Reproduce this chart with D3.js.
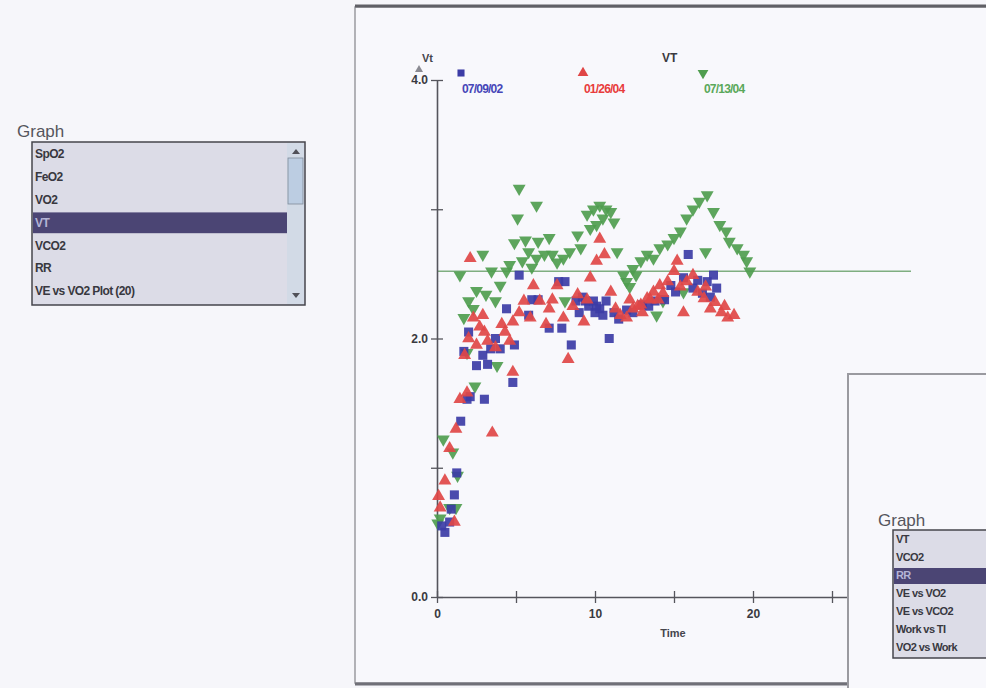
<!DOCTYPE html>
<html>
<head>
<meta charset="utf-8">
<script src="https://cdn.jsdelivr.net/npm/d3@7"></script>
<style>
  body { margin: 0; background: #f6f6fa; }
  svg { display: block; font-family: "Liberation Sans", Arial, sans-serif; }
</style>
</head>
<body>
<svg width="986" height="688"></svg>
<script>
var svg = d3.select("svg"),
    width = +svg.attr("width"),
    height = +svg.attr("height");

// VT (L) over time (min), three test dates
var blueTime = [0.3,0.5,0.8,0.9,1.1,1.25,1.5,1.7,1.9,2.0,2.1,2.5,2.9,3.0,3.2,3.4,3.7,4.0,4.4,4.8,4.9,5.2,5.8,6.0,6.4,7.1,7.7,7.9,8.1,8.5,8.8,9.0,9.2,9.4,9.6,9.9,10.0,10.1,10.3,10.5,10.7,10.9,11.2,11.5,12.0,12.4,13.0,13.4,13.8,14.4,14.8,15.1,15.6,15.9,16.2,16.5,16.8,17.1,17.3,17.5,17.7];
var blueVt   = [0.55,0.5,0.58,0.68,0.79,0.96,1.36,1.9,1.53,2.05,1.55,1.79,1.87,1.53,1.8,1.92,2.0,1.92,2.23,1.66,1.95,2.49,2.18,2.3,2.3,2.08,2.44,2.08,2.44,1.95,2.29,2.2,2.32,2.29,2.25,2.29,2.2,2.25,2.23,2.18,2.29,2.0,2.2,2.15,2.22,2.2,2.26,2.25,2.29,2.3,2.41,2.36,2.47,2.65,2.39,2.45,2.35,2.44,2.32,2.49,2.39];

var redTime = [0.1,0.2,0.5,0.8,1.1,1.2,1.45,1.75,1.9,2.0,2.1,2.3,2.5,2.7,2.9,3.0,3.2,3.5,3.7,4.1,4.3,4.6,4.8,4.8,5.2,5.5,5.9,6.1,6.5,6.9,7.1,7.3,7.6,8.0,8.3,8.6,8.9,9.3,9.5,9.7,10.1,10.3,10.6,11.0,11.3,11.6,12.0,12.2,12.4,12.7,12.9,13.0,13.3,13.5,13.7,14.0,14.1,14.3,14.6,15.0,15.2,15.4,15.6,15.8,16.2,16.5,16.9,17.0,17.3,17.6,18.0,18.2,18.4,18.8];
var redVt   = [0.78,0.69,0.9,1.15,0.58,1.3,1.53,1.87,1.58,2.0,2.62,2.16,1.95,2.09,2.18,2.05,1.98,1.27,1.93,2.11,2.05,1.98,1.74,2.13,2.2,2.29,2.16,2.41,2.29,2.11,2.23,2.3,2.41,2.16,1.84,2.25,2.34,2.13,2.3,2.47,2.6,2.77,2.65,2.36,2.23,2.18,2.16,2.3,2.23,2.25,2.26,2.2,2.31,2.3,2.36,2.3,2.41,2.35,2.44,2.52,2.6,2.4,2.2,2.44,2.49,2.36,2.31,2.4,2.23,2.28,2.2,2.25,2.16,2.18];

var greenTime = [0.05,0.2,0.4,0.8,1.0,1.2,1.3,1.45,1.7,1.9,2.0,2.3,2.4,2.5,2.9,3.1,3.45,3.7,3.8,4.0,4.4,4.6,4.9,5.1,5.2,5.4,5.6,5.8,6.0,6.3,6.3,6.4,6.8,7.1,7.3,7.6,8.0,8.1,8.4,8.9,9.1,9.5,9.7,9.9,10.1,10.3,10.5,10.7,11.0,11.2,11.4,11.8,12.0,12.2,12.4,12.6,12.9,13.3,13.7,13.9,14.1,14.3,14.6,15.0,15.4,15.6,15.8,16.2,16.6,17.0,17.1,17.5,17.9,18.3,18.5,19.0,19.4,19.6,19.8];
var greenVt   = [0.57,0.61,1.22,0.69,1.12,0.69,0.94,2.49,2.16,1.89,2.29,2.23,1.63,2.37,2.65,2.34,2.52,2.29,1.79,2.41,2.52,2.57,2.74,2.93,3.16,2.6,2.76,2.67,2.55,3.03,2.62,2.75,2.65,2.78,2.65,2.59,2.62,2.29,2.67,2.8,2.7,2.96,2.85,3.0,2.88,3.03,2.93,3.0,2.98,2.9,2.67,2.49,2.44,2.4,2.54,2.49,2.6,2.65,2.62,2.18,2.7,2.29,2.73,2.78,2.83,2.36,2.93,3.0,3.06,2.67,3.11,2.98,2.88,2.83,2.75,2.7,2.65,2.6,2.52];

var seriesNames = ["07/09/02", "01/26/04", "07/13/04"];
var thresholdVt = 2.52;

var xTicks = [0, 5, 10, 15, 20, 25, 30];
var xLabels = [0, 10, 20];
var yTicks = [0, 1, 2, 3, 4];
var yLabels = [0, 2, 4];

var listA = ["SpO2", "FeO2", "VO2", "VT", "VCO2", "RR", "VE vs VO2 Plot (20)"];
var listB = ["VT", "VCO2", "RR", "VE vs VO2", "VE vs VCO2", "Work vs TI", "VO2 vs Work"];

var colors = ["#3c3ca6", "#e04646", "#4f9d4f"];
var textColors = ["#4646b8", "#e83c3c", "#5aa85a"];

// ---- panels ----
svg.append("rect").attr("x", 0).attr("y", 0).attr("width", width).attr("height", height).attr("fill", "#f6f6fa");

// main graph window
svg.append("rect").attr("x", 355).attr("y", 7).attr("width", 640).attr("height", 676)
    .attr("fill", "#f8f8fc").attr("stroke", "#9a9aa0").attr("stroke-width", 1.5);
svg.append("line").attr("x1", 355).attr("x2", width).attr("y1", 6).attr("y2", 6)
    .attr("stroke", "#606066").attr("stroke-width", 3);
svg.append("line").attr("x1", 355).attr("x2", width).attr("y1", 684).attr("y2", 684)
    .attr("stroke", "#707078").attr("stroke-width", 3);

// list box with a selected row
function listBox(g, opt, items, sel) {
    g.append("text").attr("x", opt.lx).attr("y", opt.ly)
        .attr("font-size", opt.lsize).attr("fill", "#55555c").text("Graph");
    g.append("rect").attr("x", opt.x).attr("y", opt.y).attr("width", opt.w).attr("height", opt.h)
        .attr("fill", "#dcdce7").attr("stroke", "#45454c").attr("stroke-width", 1.5);
    g.append("rect").attr("x", opt.x + 1).attr("y", opt.y + 2 + sel * opt.step)
        .attr("width", opt.selW).attr("height", opt.step - 2).attr("fill", "#4b4574");
    g.selectAll("text.item").data(items).enter().append("text")
        .attr("class", "item")
        .attr("x", opt.x + 3)
        .attr("y", function (d, i) { return opt.y + opt.step * (i + 1) - opt.step * 0.28; })
        .attr("font-size", opt.fsize).attr("font-weight", "bold")
        .attr("letter-spacing", -0.6)
        .attr("fill", function (d, i) { return i === sel ? "#b4b4d6" : "#38383f"; })
        .text(function (d) { return d; });
}

var boxA = svg.append("g");
listBox(boxA, { lx: 17, ly: 137, lsize: 17, x: 32, y: 142, w: 273, h: 163, step: 22.8, selW: 254, fsize: 12 }, listA, 3);
// scrollbar
boxA.append("rect").attr("x", 287).attr("y", 143).attr("width", 17).attr("height", 161).attr("fill", "#d2dae6");
boxA.append("rect").attr("x", 288).attr("y", 158).attr("width", 15).attr("height", 46)
    .attr("fill", "#bccde2").attr("stroke", "#7f8a99").attr("stroke-width", 0.8);
boxA.append("path").attr("d", "M292,154 L296,149 L300,154 Z").attr("fill", "#505058");
boxA.append("path").attr("d", "M292,293 L296,298 L300,293 Z").attr("fill", "#505058");

// ---- chart ----
var x = d3.scaleLinear().domain([0, 30]).range([437, 911]);
var y = d3.scaleLinear().domain([0, 4]).range([597, 80]);

svg.append("line").attr("x1", x(0)).attr("x2", x(30)).attr("y1", y(thresholdVt)).attr("y2", y(thresholdVt))
    .attr("stroke", "#7fae80").attr("stroke-width", 1.5);

var xAxis = svg.append("g").attr("transform", "translate(0," + y(0) + ")")
    .call(d3.axisBottom(x).tickValues(xTicks).tickSizeInner(6).tickSizeOuter(0)
        .tickFormat(function (d) { return xLabels.indexOf(d) >= 0 ? d : ""; }));
xAxis.select(".domain").attr("stroke", "#55555c").attr("stroke-width", 1.6);
xAxis.selectAll(".tick line").attr("y1", -6).attr("y2", 6).attr("stroke", "#55555c").attr("stroke-width", 1.3);
xAxis.selectAll(".tick text").attr("y", 12).attr("font-size", 12).attr("font-weight", "bold")
    .attr("font-family", "Liberation Sans, Arial").attr("fill", "#3a3a40");

var yAxis = svg.append("g").attr("transform", "translate(" + x(0) + ",0)")
    .call(d3.axisLeft(y).tickValues(yTicks).tickSizeInner(6).tickSizeOuter(0)
        .tickFormat(function (d) { return yLabels.indexOf(d) >= 0 ? d3.format(".1f")(d) : ""; }));
yAxis.select(".domain").attr("stroke", "#55555c").attr("stroke-width", 1.6);
yAxis.selectAll(".tick line").attr("x1", -6).attr("x2", 6).attr("stroke", "#55555c").attr("stroke-width", 1.3);
yAxis.selectAll(".tick text").attr("x", -9).attr("font-size", 12).attr("font-weight", "bold")
    .attr("font-family", "Liberation Sans, Arial").attr("fill", "#3a3a40");

svg.append("text").attr("x", 673).attr("y", 637).attr("text-anchor", "middle")
    .attr("font-size", 11).attr("font-weight", "bold").attr("fill", "#45454c").text("Time");
svg.append("text").attr("x", 422).attr("y", 62).attr("font-size", 11).attr("font-weight", "bold")
    .attr("fill", "#45454c").text("Vt");
svg.append("path").attr("d", "M415,72 L419,65 L423,72 Z").attr("fill", "#8a8a92");
svg.append("text").attr("x", 662).attr("y", 62).attr("font-size", 12).attr("font-weight", "bold")
    .attr("fill", "#3a3a40").text("VT");

// marks
var symSquare = d3.symbol().type(d3.symbolSquare).size(82);
var symTri = d3.symbol().type(d3.symbolTriangle).size(72);

var series = [
    { t: blueTime, v: blueVt, sym: symSquare, rot: 0 },
    { t: redTime, v: redVt, sym: symTri, rot: 0 },
    { t: greenTime, v: greenVt, sym: symTri, rot: 180 }
];

[2, 0, 1].forEach(function (k) {
    var s = series[k];
    svg.append("g").selectAll("path")
        .data(d3.range(s.t.length))
        .enter().append("path")
        .attr("d", s.sym())
        .attr("fill", colors[k])
        .attr("opacity", 0.92)
        .attr("transform", function (i) {
            return "translate(" + x(s.t[i]) + "," + y(s.v[i]) + ") rotate(" + s.rot + ")";
        });
});

// legend
var legX = [461, 583, 703];
seriesNames.forEach(function (name, k) {
    var s = series[k];
    svg.append("path").attr("d", d3.symbol().type(k === 0 ? d3.symbolSquare : d3.symbolTriangle).size(50)())
        .attr("fill", colors[k])
        .attr("transform", "translate(" + legX[k] + ",73) rotate(" + s.rot + ")");
    svg.append("text").attr("x", legX[k] + 1).attr("y", 93)
        .attr("font-size", 12).attr("font-weight", "bold").attr("letter-spacing", -0.8)
        .attr("fill", textColors[k]).text(name);
});

// overlapping second window
var win = svg.append("g");
win.append("rect").attr("x", 848).attr("y", 374).attr("width", 150).attr("height", 320)
    .attr("fill", "#f8f8fc").attr("stroke", "#9a9aa0").attr("stroke-width", 2);
listBox(win, { lx: 878, ly: 526, lsize: 17, x: 893, y: 530, w: 100, h: 128, step: 18, selW: 100, fsize: 11 }, listB, 2);
</script>
</body>
</html>
